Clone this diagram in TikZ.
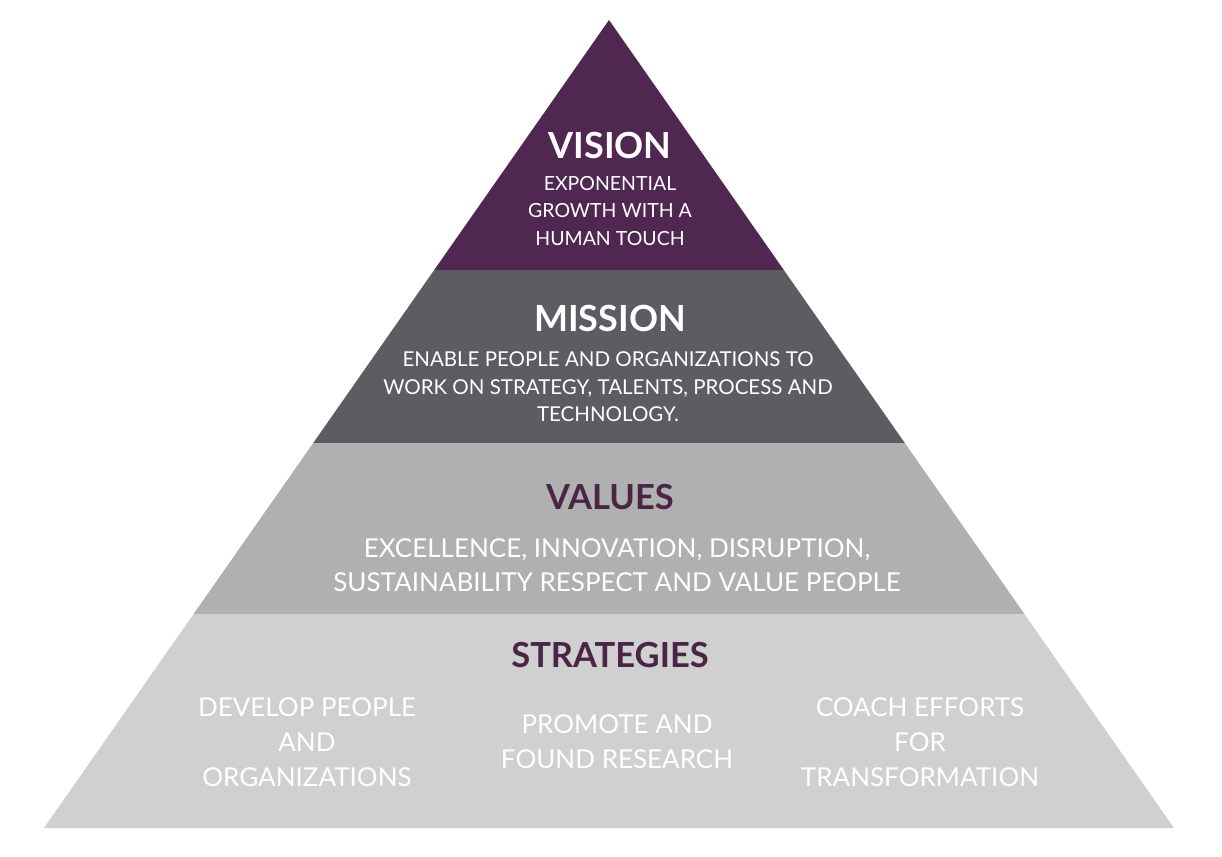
\documentclass[tikz,border=0pt]{standalone}
\usepackage{fontspec}
\setmainfont{Lato}
\definecolor{visioncol}{RGB}{79,39,80}
\definecolor{missioncol}{RGB}{92,93,99}
\definecolor{valuescol}{RGB}{176,176,176}
\definecolor{stratcol}{RGB}{208,208,208}
\definecolor{titlepurple}{RGB}{74,37,72}
\tikzset{
  band/.style={draw=none},
  titletext/.style={inner sep=0pt, font=\bfseries\fontsize{36}{40}\selectfont},
  subtitletext/.style={inner sep=0pt, font=\bfseries\fontsize{34.5}{40}\selectfont},
  bodytext/.style={inner sep=0pt, align=center, text=white},
}
\begin{document}
\begin{tikzpicture}[x=1pt,y=-1pt]
\useasboundingbox[fill=white] (0,0) rectangle (1222,856);
% corners
\coordinate (apex) at (609,20);
\coordinate (l1) at (434.2,270); \coordinate (r1) at (783.8,270);
\coordinate (l2) at (313.2,443); \coordinate (r2) at (904.8,443);
\coordinate (l3) at (193.6,614); \coordinate (r3) at (1024.4,614);
\coordinate (l4) at (44,828);    \coordinate (r4) at (1174,828);
% bands
\fill[band,visioncol] (apex) -- (r1) -- (l1) -- cycle;
\fill[band,missioncol] (l1) -- (r1) -- (r2) -- (l2) -- cycle;
\fill[band,valuescol] (l2) -- (r2) -- (r3) -- (l3) -- cycle;
\fill[band,stratcol] (l3) -- (r3) -- (r4) -- (l4) -- cycle;
% texts
\node[titletext, text=white] (vision) at (610,145) {VISION};
\node[bodytext, font=\fontsize{19.5}{27.5}\selectfont] (visionbody) at (610,211)
  {EXPONENTIAL\\GROWTH WITH A\\HUMAN TOUCH};
\node[titletext, text=white] (mission) at (610,318) {MISSION};
\node[bodytext, font=\fontsize{20.5}{27.5}\selectfont] (missionbody) at (608,387)
  {ENABLE PEOPLE AND ORGANIZATIONS TO\\WORK ON STRATEGY, TALENTS, PROCESS AND\\TECHNOLOGY.};
\node[subtitletext, text=titlepurple] (values) at (610,497) {VALUES};
\node[bodytext, font=\fontsize{26}{34}\selectfont] (valuesbody) at (617,565)
  {EXCELLENCE, INNOVATION, DISRUPTION,\\SUSTAINABILITY RESPECT AND VALUE PEOPLE};
\node[subtitletext, text=titlepurple] (strategies) at (610,655) {STRATEGIES};
\node[bodytext, font=\fontsize{26}{35}\selectfont] (strat1) at (307,742)
  {DEVELOP PEOPLE\\AND\\ORGANIZATIONS};
\node[bodytext, font=\fontsize{26}{35}\selectfont] (strat2) at (617,742)
  {PROMOTE AND\\FOUND RESEARCH};
\node[bodytext, font=\fontsize{26}{35}\selectfont] (strat3) at (920,742)
  {COACH EFFORTS\\FOR\\TRANSFORMATION};
\end{tikzpicture}
\end{document}
